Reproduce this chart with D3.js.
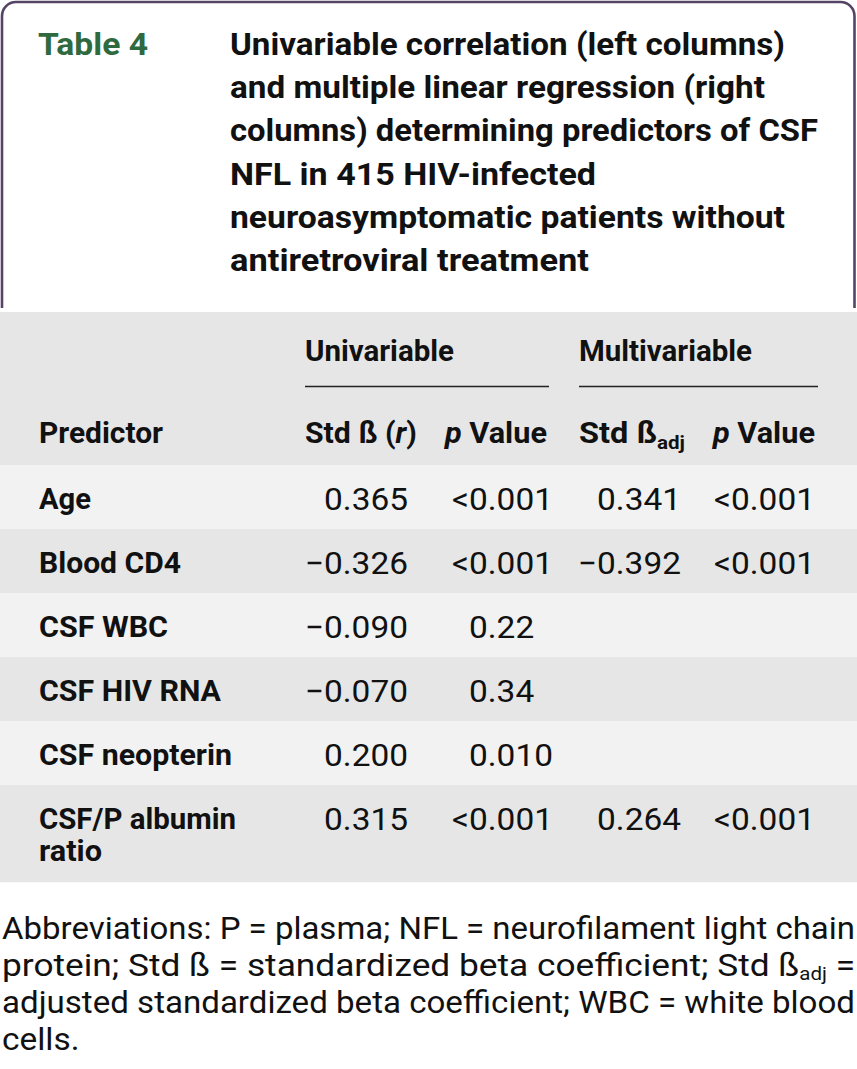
<!DOCTYPE html>
<html>
<head>
<meta charset="utf-8">
<script src="https://cdn.jsdelivr.net/npm/d3@7/dist/d3.min.js"></script>
<style>
  html, body { margin: 0; padding: 0; background: #fff; }
  svg { display: block; }
</style>
</head>
<body>
<script>
// ---------------- DATA ----------------
const tableLabel = "Table 4";
const titleLines = [
  "Univariable correlation (left columns)",
  "and multiple linear regression (right",
  "columns) determining predictors of CSF",
  "NFL in 415 HIV-infected",
  "neuroasymptomatic patients without",
  "antiretroviral treatment"
];
const groupHeaders = ["Univariable", "Multivariable"];
const predictors = [
  ["Age"],
  ["Blood CD4"],
  ["CSF WBC"],
  ["CSF HIV RNA"],
  ["CSF neopterin"],
  ["CSF/P albumin", "ratio"]
];
const uniBeta  = ["0.365", "\u22120.326", "\u22120.090", "\u22120.070", "0.200", "0.315"];
const uniP     = ["<0.001", "<0.001", "0.22", "0.34", "0.010", "<0.001"];
const multiBeta = ["0.341", "\u22120.392", "", "", "", "0.264"];
const multiP    = ["<0.001", "<0.001", "", "", "", "<0.001"];
const footnoteLines = [
  "Abbreviations: P = plasma; NFL = neurofilament light chain",
  "protein; Std \u00DF = standardized beta coefficient; Std \u00DF|adj| =",
  "adjusted standardized beta coefficient; WBC = white blood",
  "cells."
];

// ---------------- LAYOUT ----------------
const W = 857, H = 1069;
const BOLD = "Roboto, 'Liberation Sans', sans-serif";
const svg = d3.select("body").append("svg").attr("width", W).attr("height", H);

function fit(sel, w) {
  sel.attr("textLength", w).attr("lengthAdjust", "spacingAndGlyphs");
  return sel;
}

// Title box border
const bx0 = 2, bx1 = 854.5, by0 = 2, by1 = 308, r = 14;
const p = d3.path();
p.moveTo(bx0, by1);
p.lineTo(bx0, by0 + r);
p.arcTo(bx0, by0, bx0 + r, by0, r);
p.lineTo(bx1 - r, by0);
p.arcTo(bx1, by0, bx1, by0 + r, r);
p.lineTo(bx1, by1);
svg.append("path").attr("d", p.toString()).attr("fill", "none")
  .attr("stroke", "#554466").attr("stroke-width", 2.6);

// Table label
fit(svg.append("text").attr("x", 38).attr("y", 55)
  .attr("font-family", BOLD).attr("font-weight", 700).attr("font-size", 32)
  .attr("fill", "#2f6a3f").text(tableLabel), 110);

// Title lines
const titleY = d3.scaleLinear().domain([0, 1]).range([55, 98.2]);
const titleW = [555, 535, 588, 366, 555, 359];
titleLines.forEach((t, i) => {
  fit(svg.append("text").attr("x", 230).attr("y", titleY(i))
    .attr("font-family", BOLD).attr("font-weight", 700).attr("font-size", 31)
    .attr("fill", "#111").text(t), titleW[i]);
});

// Table background
const rowUnits = predictors.map(d => d.length === 1 ? 1 : 1.52);
const cum = [0]; rowUnits.forEach(u => cum.push(cum[cum.length - 1] + u));
const y = d3.scaleLinear().domain([0, cum[cum.length - 1]]).range([465, 465 + 64 * cum[cum.length - 1]]);

svg.append("rect").attr("x", 0).attr("y", 312).attr("width", W).attr("height", 465 - 312).attr("fill", "#e6e6e6");
svg.selectAll("rect.row").data(predictors).enter().append("rect")
  .attr("class", "row")
  .attr("x", 0).attr("width", W)
  .attr("y", (d, i) => y(cum[i]))
  .attr("height", (d, i) => y(cum[i + 1]) - y(cum[i]))
  .attr("fill", (d, i) => i % 2 === 0 ? "#f2f2f2" : "#e6e6e6");

// Column positions
const groupX = d3.scaleOrdinal().domain(groupHeaders).range([305, 579]);
const groupEnd = d3.scaleOrdinal().domain(groupHeaders).range([549, 818]);
const groupW = d3.scaleOrdinal().domain(groupHeaders).range([149, 173]);

groupHeaders.forEach(g => {
  fit(svg.append("text").attr("x", groupX(g)).attr("y", 361)
    .attr("font-family", BOLD).attr("font-weight", 700).attr("font-size", 30)
    .attr("fill", "#111").text(g), groupW(g));
  svg.append("line").attr("x1", groupX(g)).attr("x2", groupEnd(g))
    .attr("y1", 386.5).attr("y2", 386.5).attr("stroke", "#222").attr("stroke-width", 1.6);
});

// Sub headers
function hdr(x) {
  return svg.append("text").attr("x", x).attr("y", 443)
    .attr("font-family", BOLD).attr("font-weight", 700).attr("font-size", 30).attr("fill", "#111");
}
fit(hdr(39).text("Predictor"), 124);
{
  const t = hdr(305);
  t.append("tspan").text("Std \u00DF (");
  t.append("tspan").attr("font-style", "italic").text("r");
  t.append("tspan").text(")");
  fit(t, 112);
}
[445, 713].forEach(x => {
  const t = hdr(x);
  t.append("tspan").attr("font-style", "italic").text("p");
  t.append("tspan").text(" Value");
  fit(t, 102);
});
{
  const t = hdr(579);
  t.append("tspan").text("Std \u00DF");
  t.append("tspan").attr("font-size", 19).attr("dy", 6).text("adj");
  fit(t, 106);
}

// Row labels
const labelW = [[52], [142], [129], [182], [193], [197, 63]];
predictors.forEach((lines, i) => {
  lines.forEach((l, j) => {
    fit(svg.append("text").attr("x", 39).attr("y", y(cum[i]) + 44 + j * 32)
      .attr("font-family", BOLD).attr("font-weight", 700).attr("font-size", 30)
      .attr("fill", "#111").text(l), labelW[i][j]);
  });
});

// Numbers (regular weight, horizontally condensed)
const REG = "Roboto, 'Liberation Sans', sans-serif";
const NUMSIZE = 31;
const probe = svg.append("text").attr("font-family", REG).attr("font-size", NUMSIZE).text("<0.001");
const sx = 101 / probe.node().getComputedTextLength();
probe.text("<");
const ltW = probe.node().getComputedTextLength() * sx;
probe.remove();

function num(x, yy, s, anchor) {
  svg.append("g").attr("transform", `translate(${x},${yy}) scale(${sx},1)`)
    .append("text").attr("font-family", REG).attr("font-size", NUMSIZE).attr("fill", "#111")
    .attr("text-anchor", anchor).text(s);
}
predictors.forEach((d, i) => {
  const yy = y(cum[i]) + 44.5;
  if (uniBeta[i]) num(408, yy, uniBeta[i], "end");
  if (uniP[i]) num(469 - (uniP[i][0] === "<" ? ltW : 0), yy, uniP[i], "start");
  if (multiBeta[i]) num(681, yy, multiBeta[i], "end");
  if (multiP[i]) num(815, yy, multiP[i], "end");
});

// Footnote
const footY = d3.scaleLinear().domain([0, 1]).range([939, 976]);
footnoteLines.forEach((l, i) => {
  const t = svg.append("text").attr("x", 2).attr("y", footY(i))
    .attr("font-family", REG).attr("font-size", 31).attr("fill", "#111");
  l.split("|").forEach((part, k) => {
    if (k === 1) t.append("tspan").attr("font-size", 18).attr("dy", 4).text(part);
    else if (k === 2) t.append("tspan").attr("dy", -4).text(part);
    else t.append("tspan").text(part);
  });
  if (i < footnoteLines.length - 1) fit(t, 853);
  else t.attr("transform", `translate(${2 - 2 * sx},0) scale(${sx},1)`).attr("x", 2);
});
</script>
</body>
</html>
